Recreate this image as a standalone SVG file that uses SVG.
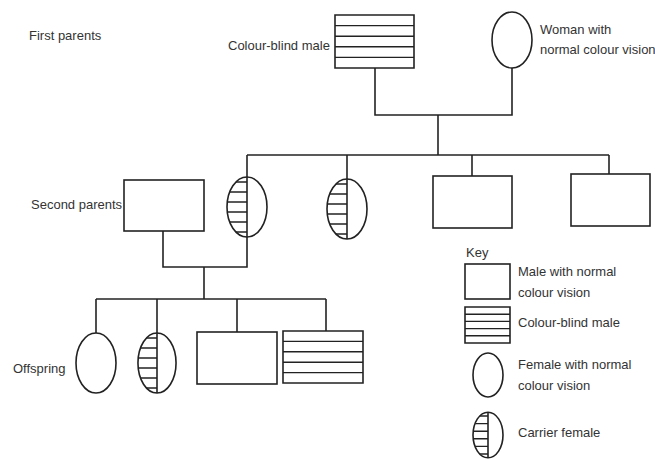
<svg xmlns="http://www.w3.org/2000/svg" xmlns:xlink="http://www.w3.org/1999/xlink" width="655" height="459" viewBox="0 0 655 459">
<style>
  .s { fill: #fff; stroke: #222; stroke-width: 1.6; }
  .ln { fill: none; stroke: #222; stroke-width: 1.6; vector-effect: non-scaling-stroke; }
  .st { fill: none; stroke: #222; stroke-width: 1.4; vector-effect: non-scaling-stroke; }
  .c { fill: none; stroke: #222; stroke-width: 1.6; }
  text { font-family: "Liberation Sans", Arial, sans-serif; font-size: 13px; fill: #333; }
</style>
<defs>
  <clipPath id="halfL">
    <ellipse cx="0" cy="0" rx="20" ry="30"/>
  </clipPath>
  <symbol id="carrier" viewBox="-21 -31 42 62" preserveAspectRatio="none" overflow="visible">
    <ellipse cx="0" cy="0" rx="20" ry="30" fill="#fff" class="ln"/>
    <g clip-path="url(#halfL)">
      <line x1="-20" y1="-25" x2="0" y2="-25" class="st"/>
      <line x1="-20" y1="-15" x2="0" y2="-15" class="st"/>
      <line x1="-20" y1="-5" x2="0" y2="-5" class="st"/>
      <line x1="-20" y1="5" x2="0" y2="5" class="st"/>
      <line x1="-20" y1="15" x2="0" y2="15" class="st"/>
      <line x1="-20" y1="25" x2="0" y2="25" class="st"/>
    </g>
    <line x1="0" y1="-30" x2="0" y2="30" class="ln"/>
  </symbol>
  <symbol id="cbmale" viewBox="0 0 80 52" preserveAspectRatio="none" overflow="visible">
    <rect x="0" y="0" width="80" height="52" fill="#fff" class="ln"/>
    <line x1="0" y1="10.4" x2="80" y2="10.4" class="st"/>
    <line x1="0" y1="20.8" x2="80" y2="20.8" class="st"/>
    <line x1="0" y1="31.2" x2="80" y2="31.2" class="st"/>
    <line x1="0" y1="41.6" x2="80" y2="41.6" class="st"/>
  </symbol>
</defs>
<rect width="655" height="459" fill="#fff"/>

<g id="connectors" class="c">
  <polyline points="375,68 375,115 512,115 512,68"/>
  <line x1="438" y1="115" x2="438" y2="155"/>
  <line x1="247" y1="155" x2="609" y2="155"/>
  <line x1="247" y1="155" x2="247" y2="177"/>
  <line x1="347" y1="155" x2="347" y2="179"/>
  <line x1="472" y1="155" x2="472" y2="176"/>
  <line x1="609" y1="155" x2="609" y2="174"/>
  <polyline points="163,231 163,267 247,267 247,237"/>
  <line x1="204" y1="267" x2="204" y2="299"/>
  <line x1="96" y1="299" x2="326" y2="299"/>
  <line x1="96" y1="299" x2="96" y2="333"/>
  <line x1="157" y1="299" x2="157" y2="333"/>
  <line x1="237" y1="299" x2="237" y2="332"/>
  <line x1="326" y1="299" x2="326" y2="331"/>
</g>

<g id="labels">
  <text x="29" y="40">First parents</text>
  <text x="31" y="209">Second parents</text>
  <text x="13" y="373">Offspring</text>
</g>

<g id="gen1-male">
  <use xlink:href="#cbmale" x="335" y="15" width="79" height="53"/>
  <text x="228" y="50">Colour-blind male</text>
</g>
<g id="gen1-female">
  <ellipse cx="512" cy="40" rx="20" ry="28" class="s"/>
  <text x="540" y="34">Woman with</text>
  <text x="540" y="54">normal colour vision</text>
</g>

<g id="gen2-spouse"><rect x="124" y="180" width="80" height="51" class="s"/></g>
<g id="gen2-carrier1"><use xlink:href="#carrier" x="226" y="176" width="42" height="62"/></g>
<g id="gen2-carrier2"><use xlink:href="#carrier" x="326" y="178" width="42" height="62"/></g>
<g id="gen2-male1"><rect x="433" y="176" width="79" height="52" class="s"/></g>
<g id="gen2-male2"><rect x="571" y="174" width="79" height="52" class="s"/></g>

<g id="gen3-female"><ellipse cx="96" cy="363" rx="20" ry="30" class="s"/></g>
<g id="gen3-carrier"><use xlink:href="#carrier" x="137" y="332" width="40" height="62"/></g>
<g id="gen3-male"><rect x="197" y="332" width="80" height="52" class="s"/></g>
<g id="gen3-cbmale"><use xlink:href="#cbmale" x="283" y="331" width="80" height="52"/></g>

<g id="key">
  <text x="466" y="257">Key</text>
  <rect x="465" y="264" width="45" height="35" class="s"/>
  <text x="518" y="276">Male with normal</text>
  <text x="518" y="297">colour vision</text>
  <use xlink:href="#cbmale" x="465" y="307" width="45" height="36"/>
  <text x="518" y="327">Colour-blind male</text>
  <ellipse cx="488" cy="375" rx="15" ry="22" class="s"/>
  <text x="518" y="369">Female with normal</text>
  <text x="518" y="390">colour vision</text>
  <use xlink:href="#carrier" x="472.25" y="411.5" width="31.5" height="47"/>
  <text x="518" y="437">Carrier female</text>
</g>
</svg>
